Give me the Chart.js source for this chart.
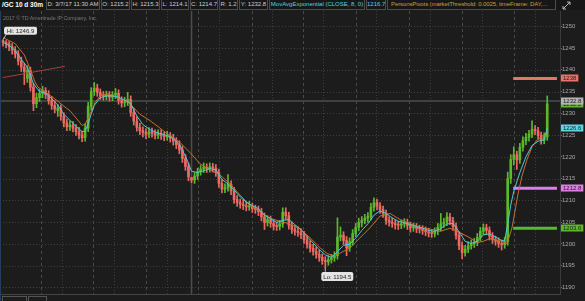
<!DOCTYPE html>
<html>
  <head>
    <title>/GC 10 d 30m</title>
    <script src="https://cdn.jsdelivr.net/npm/chart.js"></script>
    <style>
      body { margin: 0; background: #1c1c1c; }
      #wrap { position: relative; width: 585px; height: 301px; overflow: hidden; background: #1c1c1c; }
      #chart { position: absolute; left: 0; top: 0; }
      #hdr { position: absolute; left: 0; top: 0; width: 585px; height: 10px; background: #171717; }
      .c { position: absolute; top: 0; height: 10px; box-sizing: border-box; border: 1px solid #4b4b4b; border-top: none;
           font: 6px/9px "Liberation Sans", Arial, sans-serif; color: #cfcfcf; text-align: center; white-space: nowrap; overflow: hidden; }
      .sym { border: none; color: #fff; font-weight: bold; font-size: 6.5px; }
      .ema { color: #5ad0e0; }
      .piv { color: #c9a03c; text-align: left; padding-left: 3px; letter-spacing: -0.1px; }
      #copy { position: absolute; left: 3px; top: 15px; font: 5.3px "Liberation Sans", Arial, sans-serif; color: #777; white-space: nowrap; }
      #edge { position: absolute; left: 0; top: 11px; width: 1px; height: 290px; background: #1d3f63; }
      .box { position: absolute; top: 296px; height: 9px; box-sizing: border-box; border: 1px solid #555; }
    </style>
  </head>

  <body>
    <div id="wrap">
      <canvas id="chart" width="585" height="301"></canvas>
      <div id="edge"></div>
      <div id="hdr">
        <div class="c sym" style="left:0;width:45px">/GC 10 d 30m</div>
        <div class="c" id="hD" style="left:46px;width:54px"></div>
        <div class="c" id="hO" style="left:101px;width:29px"></div>
        <div class="c" id="hH" style="left:131px;width:29px"></div>
        <div class="c" id="hL" style="left:161px;width:28px"></div>
        <div class="c" id="hC" style="left:190px;width:28px"></div>
        <div class="c" id="hR" style="left:219px;width:19px"></div>
        <div class="c" id="hY" style="left:239px;width:29px"></div>
        <div class="c ema" style="left:269px;width:96px">MovAvgExponential (CLOSE, 8, 0)</div>
        <div class="c ema" id="hE" style="left:366px;width:20px"></div>
        <div class="c piv" style="left:387px;width:169px">PersonsPivots (marketThreshold: 0.0025, timeFrame: DAY,...</div>
        <svg style="position:absolute;left:562px;top:1px" width="9" height="9" viewBox="0 0 9 9">
          <path d="M1 8 L8 1 M5 1 L8 1 L8 4 M1 5 L1 8 L4 8" stroke="#bbb" stroke-width="1" fill="none"/>
        </svg>
      </div>
      <div id="copy">2017 © TD Ameritrade IP Company, Inc.</div>
      <div class="box" style="left:2px;width:25px"></div>
      <div class="box" style="left:28px;width:19px"></div>
    </div>

    <script>
      var opens = [
        1246.7,1246.4,1246.0,1245.3,1244.5,1243.6,1242.0,1240.6,1238.0,1239.8,
        1236.0,1232.2,1233.6,1234.6,1235.2,1234.3,1233.0,1231.8,1230.6,1231.2,
        1229.3,1227.8,1226.9,1227.3,1226.6,1225.8,1225.0,1224.4,1226.6,1231.6,
        1235.0,1235.8,1234.8,1234.1,1233.9,1234.2,1233.7,1234.2,1234.6,1233.0,
        1232.4,1232.6,1233.2,1230.2,1228.2,1226.8,1226.0,1225.6,1225.2,1225.8,
        1225.4,1225.0,1225.3,1224.9,1224.6,1224.8,1224.3,1223.6,1222.8,1221.6,
        1219.6,1217.8,1215.2,1214.7,1215.6,1216.6,1217.2,1217.6,1217.3,1217.7,
        1217.4,1216.4,1213.9,1212.6,1212.9,1213.7,1212.2,1210.2,1209.5,1209.1,
        1208.8,1208.5,1208.6,1208.1,1207.9,1207.4,1206.2,1204.9,1205.6,1204.7,
        1204.1,1204.0,1204.6,1207.3,1206.5,1204.3,1203.3,1202.9,1202.6,1202.1,
        1201.0,1199.9,1199.0,1198.3,1197.6,1196.9,1196.2,1195.9,1196.4,1196.8,
        1197.3,1201.6,1202.0,1200.8,1199.1,1200.5,1202.4,1203.8,1204.9,1205.4,
        1205.9,1206.3,1208.4,1209.5,1208.7,1207.9,1207.0,1205.4,1205.0,1204.7,
        1204.4,1204.3,1204.6,1204.9,1204.2,1203.7,1203.9,1203.5,1203.4,1203.1,
        1202.8,1202.5,1202.4,1202.9,1203.8,1204.6,1205.0,1206.2,1205.3,1204.0,
        1202.0,1199.6,1198.0,1198.8,1199.6,1200.0,1200.4,1201.5,1202.9,1203.7,
        1203.1,1201.8,1201.0,1200.6,1200.1,1199.8,1200.5,1215.0,1219.4,1220.5,
        1219.3,1222.2,1223.7,1224.5,1225.2,1226.3,1226.0,1224.9,1223.8,1224.6
      ];
      var highs = [
        1246.9,1246.7,1246.5,1246.0,1245.3,1244.4,1242.9,1241.5,1240.9,1240.6,
        1236.9,1234.6,1235.5,1236.2,1235.9,1235.2,1233.9,1232.9,1232.0,1231.9,
        1230.1,1228.7,1228.3,1228.1,1227.4,1226.8,1225.9,1227.6,1232.5,1235.9,
        1237.1,1236.7,1235.6,1235.0,1235.1,1235.0,1235.0,1235.7,1235.4,1233.8,
        1233.7,1234.8,1234.0,1231.2,1229.2,1227.7,1226.9,1226.5,1226.7,1226.6,
        1226.2,1226.2,1226.2,1225.7,1225.9,1225.6,1225.2,1224.4,1223.7,1222.5,
        1220.5,1218.6,1215.3,1216.4,1217.4,1218.0,1218.6,1218.4,1218.6,1218.5,
        1218.2,1217.2,1214.8,1213.8,1215.9,1214.5,1213.0,1211.1,1210.3,1210.1,
        1209.6,1209.8,1209.4,1208.9,1208.7,1208.2,1207.1,1206.5,1206.4,1205.6,
        1205.1,1205.4,1208.3,1208.3,1207.3,1205.1,1204.2,1203.9,1203.5,1202.9,
        1201.8,1200.7,1199.9,1199.3,1198.6,1197.7,1197.1,1197.3,1197.6,1198.2,
        1206.0,1203.9,1202.8,1201.7,1201.4,1203.3,1204.7,1205.9,1206.3,1206.8,
        1207.2,1209.3,1210.6,1210.3,1209.5,1208.7,1207.8,1206.2,1205.9,1205.5,
        1205.2,1205.5,1205.8,1205.7,1205.0,1204.8,1204.7,1204.3,1204.2,1203.9,
        1203.6,1203.3,1203.7,1204.7,1207.0,1205.9,1207.2,1207.0,1206.1,1204.8,
        1202.8,1200.4,1199.7,1200.5,1200.9,1201.3,1202.4,1203.8,1204.6,1204.5,
        1203.9,1202.6,1201.8,1201.4,1200.9,1201.5,1216.5,1220.5,1222.3,1221.3,
        1223.1,1224.6,1225.4,1226.1,1228.3,1227.2,1226.8,1225.7,1225.5,1234.0
      ];
      var lows = [
        1245.4,1245.1,1244.4,1243.6,1242.7,1241.1,1239.6,1236.6,1237.1,1235.1,
        1230.6,1231.3,1232.7,1233.6,1233.4,1232.1,1230.9,1230.1,1229.3,1228.4,
        1226.9,1226.0,1226.1,1225.7,1224.9,1224.1,1223.5,1223.6,1225.8,1230.7,
        1234.1,1233.9,1233.2,1233.0,1233.1,1232.8,1232.9,1233.4,1232.1,1231.4,
        1231.5,1231.8,1229.3,1227.3,1225.9,1225.1,1224.6,1224.2,1224.4,1224.5,
        1224.1,1224.2,1224.0,1223.7,1223.8,1223.4,1222.7,1221.9,1220.7,1218.7,
        1216.9,1214.5,1214.1,1213.9,1214.8,1215.8,1216.4,1216.4,1216.5,1216.5,
        1215.5,1213.0,1211.7,1211.8,1212.1,1211.3,1209.3,1208.6,1208.2,1207.9,
        1207.6,1207.7,1207.2,1207.0,1206.5,1205.3,1203.3,1204.1,1203.8,1203.2,
        1203.1,1203.2,1203.8,1205.6,1203.4,1202.4,1202.0,1201.7,1201.2,1200.1,
        1199.0,1198.1,1197.4,1196.7,1196.0,1195.3,1194.5,1195.1,1195.6,1196.0,
        1196.5,1200.7,1199.9,1197.3,1198.3,1199.7,1201.6,1203.0,1203.9,1204.6,
        1205.0,1205.5,1207.5,1207.8,1207.0,1206.1,1204.5,1204.1,1203.8,1203.4,
        1203.3,1203.5,1203.8,1203.3,1202.7,1202.9,1202.6,1202.5,1202.2,1201.9,
        1201.6,1201.5,1201.6,1202.1,1203.0,1203.8,1204.2,1204.4,1203.1,1201.1,
        1198.7,1196.6,1197.2,1198.0,1198.8,1199.2,1199.6,1200.7,1202.1,1202.2,
        1200.9,1200.1,1199.7,1199.2,1198.6,1199.0,1199.7,1213.9,1218.1,1217.1,
        1218.5,1221.3,1222.8,1223.6,1224.4,1225.1,1224.0,1222.9,1223.0,1223.8
      ];
      var closes = [
        1246.4,1246.0,1245.3,1244.5,1243.6,1242.0,1240.6,1239.6,1239.8,1236.0,
        1232.2,1233.6,1234.6,1235.2,1234.3,1233.0,1231.8,1231.0,1231.2,1229.3,
        1227.8,1226.9,1227.3,1226.6,1225.8,1225.0,1224.4,1226.6,1231.6,1235.0,
        1235.8,1234.8,1234.1,1233.9,1234.2,1233.7,1234.2,1234.6,1233.0,1232.4,
        1232.6,1233.2,1230.2,1228.2,1226.8,1226.0,1225.6,1225.2,1225.8,1225.4,
        1225.0,1225.3,1224.9,1224.6,1224.8,1224.3,1223.6,1222.8,1221.6,1219.6,
        1217.8,1215.4,1214.7,1215.6,1216.6,1217.2,1217.6,1217.3,1217.7,1217.4,
        1216.4,1213.9,1212.6,1212.9,1213.7,1212.2,1210.2,1209.5,1209.1,1208.8,
        1208.5,1208.6,1208.1,1207.9,1207.4,1206.2,1204.9,1205.6,1204.7,1204.1,
        1204.0,1204.6,1207.3,1206.5,1204.3,1203.3,1202.9,1202.6,1202.1,1201.0,
        1199.9,1199.0,1198.3,1197.6,1196.9,1196.2,1195.9,1196.4,1196.8,1197.3,
        1201.6,1202.0,1200.8,1199.1,1200.5,1202.4,1203.8,1204.9,1205.4,1205.9,
        1206.3,1208.4,1209.5,1208.7,1207.9,1207.0,1205.4,1205.0,1204.7,1204.4,
        1204.3,1204.6,1204.9,1204.2,1203.7,1203.9,1203.5,1203.4,1203.1,1202.8,
        1202.5,1202.4,1202.9,1203.8,1204.6,1205.0,1206.2,1205.3,1204.0,1202.0,
        1199.6,1198.0,1198.8,1199.6,1200.0,1200.4,1201.5,1202.9,1203.7,1203.1,
        1201.8,1201.0,1200.6,1200.1,1199.8,1200.5,1215.0,1219.4,1220.5,1219.3,
        1222.2,1223.7,1224.5,1225.2,1226.3,1226.0,1224.9,1223.8,1224.6,1232.2
      ];

      // MovAvgExponential(CLOSE, 8) as drawn, [bar, price]
      var emaFast = [
        [0,1246.3],[2,1245.6],[4,1244.4],[6,1242.4],[8,1240.6],[10,1236.8],[12,1235.0],[14,1234.6],
        [16,1233.4],[18,1231.9],[20,1229.8],[22,1228.4],[24,1227.0],[26,1225.8],[27,1225.9],[28,1227.6],
        [29,1229.8],[30,1231.8],[32,1233.6],[34,1234.0],[36,1234.0],[38,1233.7],[40,1233.0],[42,1232.2],
        [44,1229.4],[46,1227.4],[48,1226.4],[50,1225.7],[52,1225.3],[54,1224.9],[56,1224.2],[58,1222.8],
        [60,1220.2],[62,1216.7],[64,1216.4],[66,1216.8],[68,1217.3],[70,1217.0],[72,1214.8],[74,1213.8],
        [76,1212.4],[78,1210.8],[80,1209.6],[82,1208.8],[84,1208.1],[86,1206.6],[88,1205.8],[90,1204.9],
        [92,1205.4],[94,1205.6],[96,1204.4],[98,1203.3],[100,1201.7],[102,1200.2],[104,1198.7],[106,1197.5],
        [108,1196.9],[110,1198.2],[112,1199.7],[114,1199.9],[116,1201.3],[118,1203.1],[120,1204.6],[122,1206.6],
        [124,1207.6],[126,1207.0],[128,1206.0],[130,1205.2],[132,1204.9],[134,1204.4],[136,1204.0],[138,1203.6],
        [140,1203.1],[142,1202.9],[144,1203.5],[146,1204.6],[148,1204.7],[150,1202.8],[152,1200.6],[154,1200.1],
        [156,1200.6],[158,1202.1],[160,1202.3],[162,1201.6],[164,1200.8],[165,1200.7],[166,1204.6],[167,1208.9],
        [168,1212.1],[170,1216.4],[172,1220.0],[174,1222.6],[176,1223.6],[178,1223.9],[179,1226.6]
      ];
      // slower average (orange), [bar, price]
      var emaSlow = [
        [0,1247.4],[4,1246.0],[7,1243.4],[8.2,1241.4],[9.5,1239.1],[10.5,1237.2],[11.5,1236.0],[13.2,1235.2],
        [15.5,1234.1],[17.8,1232.9],[19.7,1231.8],[22,1230.6],[24.3,1228.7],[26,1227.2],[27,1227.5],[28.6,1229.8],
        [30.3,1232.5],[32,1234.1],[34.2,1234.5],[36.2,1234.1],[38.5,1233.3],[40.8,1232.9],[42.8,1231.4],[45,1229.8],
        [48.4,1228.3],[51.6,1226.6],[55,1224.8],[58.2,1223.3],[61.5,1221.0],[64.8,1218.4],[68.1,1217.0],[71.4,1215.8],
        [74.7,1213.8],[78,1211.2],[81.3,1208.8],[84.5,1207.4],[87.8,1205.9],[91.1,1205.2],[94.4,1204.6],[97.7,1203.4],
        [101,1201.4],[104.3,1199.1],[106.6,1197.8],[108.6,1197.3],[110.9,1197.9],[114.1,1199.1],[117.4,1201.4],[120.7,1203.7],
        [124,1206.4],[127.3,1207.0],[130.6,1205.6],[133.9,1204.6],[137.2,1203.8],[140.5,1203.4],[143.8,1202.9],[147,1203.6],
        [150.3,1202.6],[153.6,1201.4],[155.9,1200.3],[157.9,1200.6],[160.2,1201.2],[163.5,1200.7],[165.8,1200.1],[167.4,1203.7],
        [168.4,1207.5],[169.4,1211.5],[170.7,1215.6],[172.4,1219.5],[174,1222.3],[175.7,1223.9],[177,1224.6],[178.3,1225.2],
        [179,1225.8]
      ];

      var priceTicks = [1190, 1195, 1200, 1205, 1210, 1215, 1220, 1225, 1230, 1235, 1240, 1245, 1250];
      var sessionBreaks = [12.4, 29.6, 46.9, 64.2, 81.8, 98.8, 116.1, 133.6, 150.9, 168.2];
      var sessionMids = [19.3, 36.5, 53.8, 71.1, 88.4, 105.4, 122.7, 140.4, 157.7, 175.0];
      var pivotNames = ["R1", "PP", "S1"];
      var pivotLevels = [1238.0, 1212.8, 1203.6];
      var pivotSpan = [167.8, 182.2];
      var trendLine = [[-0.1, 1238.2], [20.4, 1240.8]];
      var cursorIndex = 62;
      var cursorDate = "3/7/17 11:30 AM";
      var crosshairPrice = 1232.8;

      var UP = "#5cb82c", DOWN = "#ec6a62";
      var pivotColors = { R1: "#e8736c", PP: "#e07ee6", S1: "#5cb82c" };
      var FONT = '"Liberation Sans", Arial, sans-serif';

      var last = closes.length - 1;
      document.getElementById("hD").textContent = "D: " + cursorDate;
      document.getElementById("hO").textContent = "O: " + opens[cursorIndex].toFixed(1);
      document.getElementById("hH").textContent = "H: " + highs[cursorIndex].toFixed(1);
      document.getElementById("hL").textContent = "L: " + lows[cursorIndex].toFixed(1);
      document.getElementById("hC").textContent = "C: " + closes[cursorIndex].toFixed(1);
      document.getElementById("hR").textContent = "R: " + (highs[cursorIndex] - lows[cursorIndex]).toFixed(1);
      document.getElementById("hY").textContent = "Y: " + crosshairPrice.toFixed(1);
      var emaAtCursor = emaFast.find((p) => p[0] === cursorIndex);
      document.getElementById("hE").textContent = emaAtCursor[1].toFixed(1);

      function candleColor(c) {
        var i = c.dataIndex;
        return closes[i] >= opens[i] ? UP : DOWN;
      }

      function seg(ctx, x1, y1, x2, y2) {
        ctx.beginPath();
        ctx.moveTo(x1, y1);
        ctx.lineTo(x2, y2);
        ctx.stroke();
      }

      function bubble(ctx, yScale, value, text, fill, left) {
        var py = yScale.getPixelForValue(value);
        ctx.font = "6px " + FONT;
        var w = ctx.measureText(text).width + 4;
        ctx.fillStyle = fill;
        ctx.fillRect(left, Math.round(py) - 3.5, w, 7);
        ctx.fillStyle = "#1b1b1b";
        ctx.textBaseline = "middle";
        ctx.textAlign = "left";
        ctx.fillText(text, left + 2, Math.round(py));
      }

      function noteBox(ctx, text, left, top, w, h) {
        ctx.fillStyle = "#e4e4e4";
        ctx.beginPath();
        ctx.roundRect(left, top, w, h, 2);
        ctx.fill();
        ctx.fillStyle = "#222";
        ctx.font = "6px " + FONT;
        ctx.textBaseline = "middle";
        ctx.textAlign = "center";
        ctx.fillText(text, left + w / 2, top + h / 2 + 0.5);
      }

      var tosPlugin = {
        id: "tos",
        beforeDatasetsDraw(chart) {
          var ctx = chart.ctx, a = chart.chartArea, x = chart.scales.x, y = chart.scales.y;
          ctx.save();
          ctx.beginPath();
          ctx.rect(a.left, a.top, a.right - a.left, a.bottom - a.top);
          ctx.clip();
          ctx.lineWidth = 1;
          ctx.strokeStyle = "#3e3e3e";
          ctx.setLineDash([1, 2]);
          priceTicks.forEach((v) => {
            var py = Math.round(y.getPixelForValue(v)) + 0.5;
            seg(ctx, a.left, py, a.right, py);
          });
          sessionMids.forEach((v) => {
            var px = Math.round(x.getPixelForValue(v)) + 0.5;
            seg(ctx, px, a.top, px, a.bottom);
          });
          ctx.strokeStyle = "#4a4a4a";
          ctx.setLineDash([3, 3]);
          sessionBreaks.forEach((v) => {
            var px = Math.round(x.getPixelForValue(v)) + 0.5;
            seg(ctx, px, a.top, px, a.bottom);
          });
          ctx.setLineDash([]);
          ctx.strokeStyle = "#4c4c4c";
          ctx.lineWidth = 1.5;
          var cy = y.getPixelForValue(crosshairPrice);
          seg(ctx, a.left, cy, a.right, cy);
          var cx = x.getPixelForValue(cursorIndex);
          seg(ctx, cx, a.top, cx, a.bottom);
          ctx.restore();
        },
        afterDraw(chart) {
          var ctx = chart.ctx, a = chart.chartArea, x = chart.scales.x, y = chart.scales.y;
          ctx.save();
          ctx.strokeStyle = "#444";
          ctx.lineWidth = 1;
          seg(ctx, a.left, a.bottom + 0.5, a.right, a.bottom + 0.5);

          // highest high / lowest low notes
          var hi = highs.indexOf(Math.max.apply(null, highs));
          var lo = lows.indexOf(Math.min.apply(null, lows));
          var hx = x.getPixelForValue(hi), hy = y.getPixelForValue(highs[hi]);
          ctx.strokeStyle = "#bbb";
          seg(ctx, hx, hy, hx + 3, hy - 5);
          noteBox(ctx, "Hi: " + highs[hi].toFixed(1), hx + 1, hy - 13, 33, 8);
          var lx = x.getPixelForValue(lo), ly = y.getPixelForValue(lows[lo]);
          ctx.strokeStyle = "#bbb";
          seg(ctx, lx, ly, lx, ly + 4);
          noteBox(ctx, "Lo: " + lows[lo].toFixed(1), lx - 4, ly + 4, 32, 9);

          // price bubbles on the axis
          var left = a.right + 1;
          pivotLevels.forEach((v, i) => bubble(ctx, y, v, String(v % 1 ? v.toFixed(1) : v), pivotColors[pivotNames[i]], left));
          bubble(ctx, y, closes[last], closes[last].toFixed(1), UP, left);
          bubble(ctx, y, crosshairPrice, crosshairPrice.toFixed(1), "#b4b4b4", left);
          var emaLast = emaFast[emaFast.length - 1][1];
          bubble(ctx, y, emaLast, emaLast.toFixed(1), "#5ed4e4", left);
          ctx.restore();
        },
      };

      var pivotSets = pivotLevels.map((v, i) => ({
        type: "line",
        label: pivotNames[i],
        data: pivotSpan.map((b) => ({ x: b, y: v })),
        borderColor: pivotColors[pivotNames[i]],
        borderWidth: 3,
        borderCapStyle: "butt",
        pointRadius: 0,
        order: 0,
      }));

      var chart = new Chart(document.getElementById("chart").getContext("2d"), {
        data: {
          datasets: [
            {
              type: "line",
              label: "MovAvgExponential",
              data: emaFast.map((p) => ({ x: p[0], y: p[1] })),
              borderColor: "#4fcbdc",
              borderWidth: 1,
              pointRadius: 0,
              order: 0,
            },
            {
              type: "line",
              label: "slow",
              data: emaSlow.map((p) => ({ x: p[0], y: p[1] })),
              borderColor: "#c8702a",
              borderWidth: 1,
              pointRadius: 0,
              order: 0,
            },
            {
              type: "line",
              label: "trend",
              data: trendLine.map((p) => ({ x: p[0], y: p[1] })),
              borderColor: "#a3423e",
              borderWidth: 1,
              pointRadius: 0,
              order: 0,
            },
          ].concat(pivotSets, [
            {
              type: "bar",
              label: "wick",
              data: closes.map((c, i) => ({ x: i, y: [lows[i], highs[i]] })),
              backgroundColor: candleColor,
              barThickness: 1,
              grouped: false,
              order: 2,
            },
            {
              type: "bar",
              label: "body",
              data: closes.map((c, i) => ({ x: i, y: [opens[i], c] })),
              backgroundColor: candleColor,
              barThickness: 2,
              minBarLength: 1,
              grouped: false,
              order: 1,
            },
          ]),
        },
        options: {
          responsive: false,
          animation: false,
          devicePixelRatio: 1,
          layout: { padding: { top: 11, bottom: 7, left: 0, right: 0 } },
          plugins: { legend: { display: false }, tooltip: { enabled: false } },
          scales: {
            x: { type: "linear", min: -1, max: 183.2, offset: false, display: false },
            y: {
              position: "right",
              min: 1188.5,
              max: 1253.5,
              afterBuildTicks: (s) => {
                s.ticks = priceTicks.map((v) => ({ value: v }));
              },
              afterFit: (s) => {
                s.width = 25;
              },
              ticks: {
                color: "#a8a8a8",
                font: { size: 6, family: FONT },
                padding: 0,
                callback: (v) => String(v),
              },
              grid: { drawOnChartArea: false, color: "#777", tickLength: 2 },
              border: { color: "#3a3a3a" },
            },
          },
        },
        plugins: [tosPlugin],
      });
    </script>
  </body>
</html>
